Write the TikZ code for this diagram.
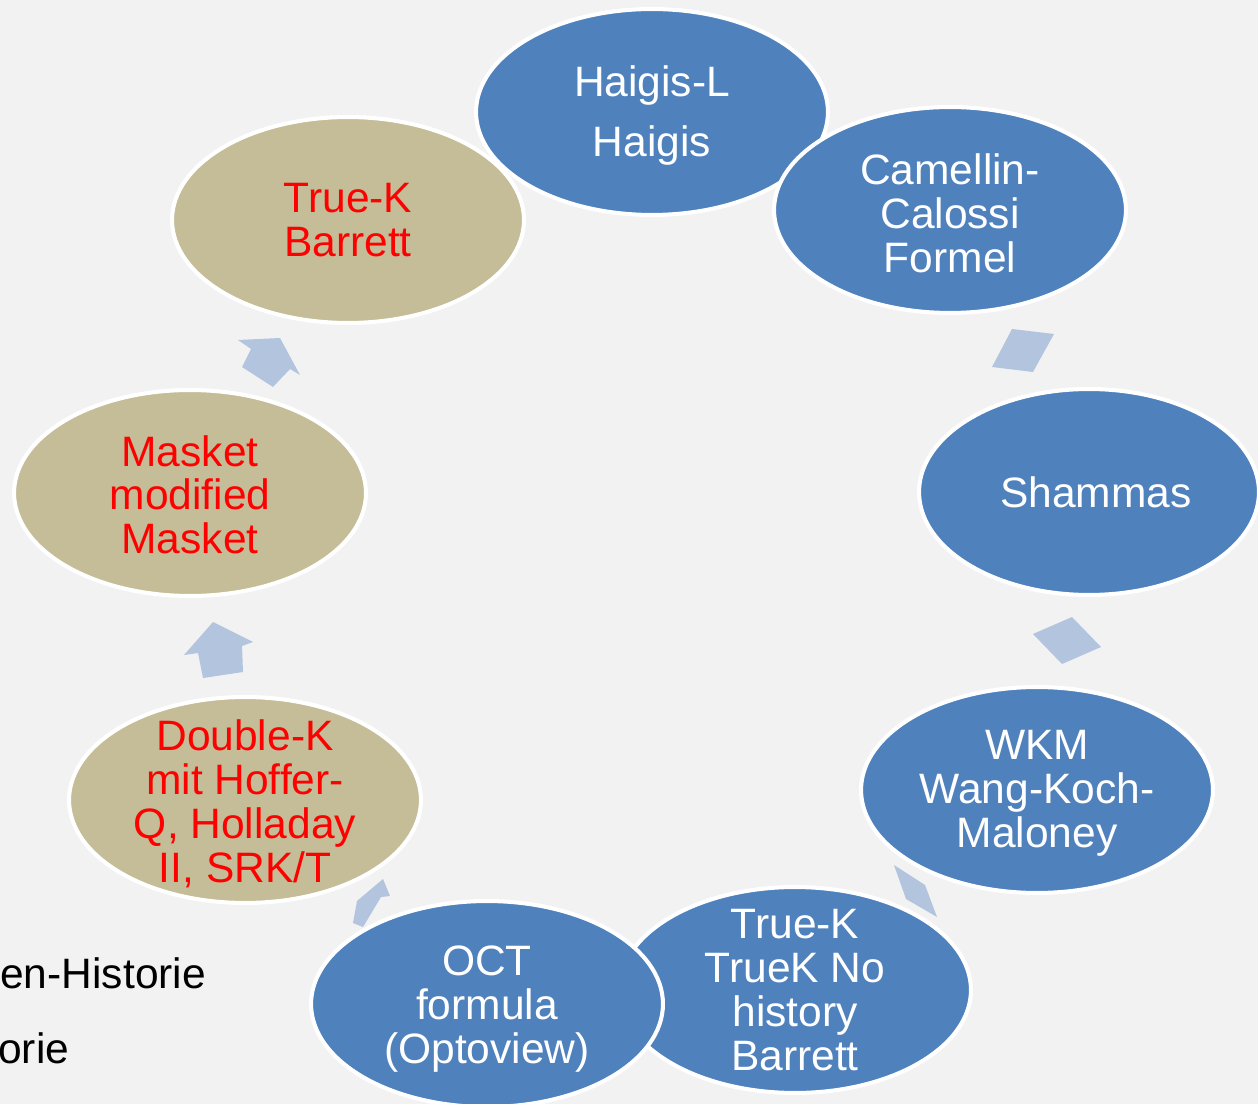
\documentclass[tikz,border=0pt]{standalone}
\usepackage{fontspec}
\setmainfont{Liberation Sans}
\usetikzlibrary{shapes.geometric}
\definecolor{cycblue}{HTML}{4F81BD}
\definecolor{cyctan}{HTML}{C4BD97}
\definecolor{cycarrow}{HTML}{B3C4DF}
\definecolor{cycbg}{HTML}{F2F2F2}
\newcommand{\cycfont}{\fontsize{24.2}{25}\selectfont}
\tikzset{
  blueell/.style={ellipse, fill=cycblue, draw=white, line width=2.3pt,
    minimum width=7.04cm, minimum height=4.12cm, inner sep=0pt},
  tanell/.style={blueell, fill=cyctan},
  wtxt/.style={text=white, align=center, font=\cycfont, inner sep=0pt},
  rtxt/.style={wtxt, text=red},
  cycarrow/.style={fill=cycarrow, draw=none}
}

\begin{document}
\begin{tikzpicture}[x=0.02cm, y=-0.02cm]
\fill[cycbg] (0,0) rectangle (1258,1104);
\useasboundingbox (0,0) rectangle (1258,1104);

% arrows between the steps
\fill[cycarrow] (1012,329) -- (1054,334) -- (1033,372) -- (992,367) -- cycle;
\fill[cycarrow] (1072,617) -- (1101,647) -- (1062,664) -- (1033,634) -- cycle;
\fill[cycarrow] (894,865) -- (925,885) -- (937,917) -- (906,899) -- cycle;
\fill[cycarrow] (357,901) -- (383,879) -- (390,896) -- (381,897) -- (363,927) -- (353,923) -- cycle;
\fill[cycarrow] (213,622) -- (253,642) -- (242,646) -- (243,672) -- (203,678) -- (198,653) -- (184,655) -- cycle;
\fill[cycarrow] (238,340) -- (280,338) -- (300,375) -- (290,369) -- (273,387) -- (242,367) -- (251,349) -- cycle;

% steps of the cycle
\node[blueell] (hai) at (652,112) {};
\node[blueell] (cam) at (950,210) {};
\node[blueell, minimum width=6.8cm] (sha) at (1089,492) {};
\node[blueell] (wkm) at (1037,790) {};
\node[blueell] (tkn) at (795,990) {};
\node[blueell] (oct) at (487,1004) {};
\node[tanell] (dbk) at (245,800) {};
\node[tanell] (mas) at (190,493) {};
\node[tanell] (tkb) at (348,220) {};

\node[wtxt] (haitxt) at ([yshift=-2]hai.center) {Haigis-L\\[0.34cm]Haigis};
\node[wtxt] (camtxt) at ([yshift=-2]cam.center) {Camellin-\\Calossi\\Formel};
\node[wtxt] (shatxt) at ([xshift=4]sha.center) {Shammas};
\node[wtxt] (wkmtxt) at ([yshift=-2]wkm.center) {WKM\\Wang-Koch-\\Maloney};
\node[wtxt] (tkntxt) at (tkn.center) {True-K\\TrueK No\\history\\Barrett};
\node[wtxt] (octtxt) at ([yshift=-3]oct.center) {OCT\\formula\\(Optoview)};
\node[rtxt] (dbktxt) at ([yshift=-2]dbk.center) {Double-K\\mit Hoffer-\\Q, Holladay\\II, SRK/T};
\node[rtxt] (mastxt) at ([yshift=-1]mas.center) {Masket\\modified\\Masket};
\node[rtxt] (tkbtxt) at (tkb.center) {True-K\\Barrett};

% cut-off text of the slide
\node[anchor=base west, inner sep=0pt, font=\cycfont] (hist1) at (0,988) {en-Historie};
\node[anchor=base west, inner sep=0pt, font=\cycfont] (hist2) at (-2,1063) {orie};
\end{tikzpicture}
\end{document}
